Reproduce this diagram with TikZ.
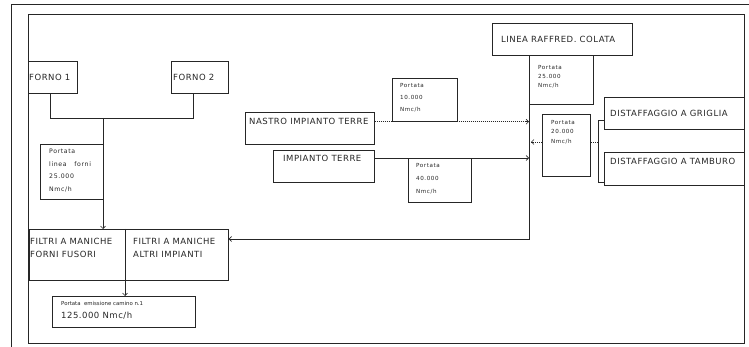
\documentclass[tikz,border=0pt]{standalone}
\usepackage{fontspec}
\newfontfamily\lab[LetterSpace=6]{DejaVu Sans}
\newfontfamily\labs[LetterSpace=10]{DejaVu Sans}
\newfontfamily\labt{DejaVu Sans}
\usetikzlibrary{arrows.meta,backgrounds,calc}
\definecolor{ink}{gray}{0.15}
\begin{document}
\begin{tikzpicture}[x=1pt,y=-1pt,
  box/.style={draw=ink, line width=0.7pt, fill=white, anchor=north west, inner sep=0pt},
  lbl/.style={text=ink, inner sep=0pt, anchor=west, font=\fontsize{8.5}{10}\selectfont\lab},
  lbltwo/.style={text=ink, inner sep=0pt, anchor=north west, align=left, font=\fontsize{8.5}{13}\selectfont\lab},
  smsix/.style={text=ink, inner sep=0pt, anchor=north west, align=left, font=\fontsize{6.2}{12.5}\selectfont\labs},
  smfive/.style={text=ink, inner sep=0pt, anchor=north west, align=left, font=\fontsize{5.6}{#1}\selectfont\labs},
  tiny/.style={text=ink, inner sep=0pt, anchor=west, font=\fontsize{5.4}{6}\selectfont\labt},
  conn/.style={draw=ink, line width=0.7pt},
  arr/.style={conn, -{Straight Barb[length=2.5pt,width=5pt]}},
  dotline/.style={draw=ink, line width=0.6pt, dash pattern=on 1pt off 1pt}
]
\useasboundingbox (0,0) rectangle (749,347);
% frames
\coordinate (o1) at (11,347);
\coordinate (o2) at (11,5);
\coordinate (o3) at (749,5);
\draw[ink, line width=1pt] (o1) -- (o2) -- (o3);
\node[draw=ink, line width=1pt, anchor=north west, inner sep=0pt, minimum width=716pt, minimum height=329pt] (frame) at (28,14) {};

% boxes
\node[box, minimum width=49pt, minimum height=32pt] (forno1) at (28,61) {};
\node[box, minimum width=57pt, minimum height=32pt] (forno2) at (171,61) {};
\node[box, minimum width=63pt, minimum height=55pt] (plf) at (40,144) {};
\node[box, minimum width=199pt, minimum height=51pt] (filt) at (29,229) {};
\node[box, minimum width=143pt, minimum height=31pt] (emis) at (52,296) {};
\node[box, minimum width=140pt, minimum height=32pt] (linea) at (492,23) {};
\node[box, minimum width=64pt, minimum height=49pt] (p25) at (529,55) {};
\node[box, minimum width=140pt, minimum height=32pt] (distA) at (604,97) {};
\node[box, minimum width=140pt, minimum height=33pt] (distB) at (604,152) {};
\node[box, minimum width=129pt, minimum height=32pt] (nastro) at (245,112) {};
\node[box, minimum width=65pt, minimum height=43pt] (p10) at (392,78) {};
\node[box, minimum width=101pt, minimum height=32pt] (imp) at (273,150) {};
\node[box, minimum width=63pt, minimum height=44pt] (p40) at (408,158) {};
\node[box, minimum width=48pt, minimum height=62pt] (p20) at (542,114) {};

% connectors
\coordinate (j1) at (50,118);
\coordinate (j2) at (193,118);
\coordinate (j3) at (103,118);
\coordinate (dv) at (125,229);
\coordinate (bv) at (529,239);
\coordinate (br1) at (598,120);
\coordinate (br2) at (598,182);
\coordinate (br3) at (598,142);
\coordinate (br4) at (531,142);
\draw[conn] (dv) -- (dv |- filt.south);
\begin{scope}[on background layer]
\draw[conn] (forno1.south -| j1) -- (j1) -- (j2) -- (forno2.south -| j2);
\draw[arr] (j3) -- (filt.north -| j3);
\draw[arr] (dv |- filt.south) -- (emis.north -| dv);
\draw[arr] (p25.south west) -- (bv) -- (bv -| filt.east);
\draw[dotline] (nastro.east |- p10.south) -- (p10.south -| p25.west);
\draw[ink, line width=0.6pt, -{Straight Barb[length=2.5pt,width=5pt]}] ($(p10.south -| p25.west)+(-3,0)$) -- (p10.south -| p25.west);
\draw[arr] (imp.east |- p40.north) -- (p40.north -| p25.west);
\draw[conn] (distA.west |- br1) -- (br1) -- (br2) -- (distB.west |- br2);
\draw[dotline] (br3) -- (br4);
\draw[ink, line width=0.6pt, -{Straight Barb[length=2.5pt,width=5pt]}] ($(br4)+(3,0)$) -- (br4);
\end{scope}

% texts
\node[lbl] (tf1) at (29,77) {FORNO 1};
\node[lbl] (tf2) at (173,77) {FORNO 2};
\node[smsix] (tplf) at (49,149) {Portata\\linea\ \ \ forni\\25.000\\Nmc/h};
\node[lbltwo] (tfa) at (30,238) {FILTRI A MANICHE\\FORNI FUSORI};
\node[lbltwo] (tfb) at (133,238) {FILTRI A MANICHE\\ALTRI IMPIANTI};
\node[tiny] (te1) at (61,303) {Portata\ \ emissione camino n.1};
\node[lbl] (te2) at (61,316) {125.000 Nmc/h};
\node[lbl] (tlin) at (501,39) {LINEA RAFFRED. COLATA};
\node[smfive=9] (tp25) at (538,65) {Portata\\25.000\\Nmc/h};
\node[smfive=9.5] (tp20) at (551,120) {Portata\\20.000\\Nmc/h};
\node[lbl] (tda) at (610,113) {DISTAFFAGGIO A GRIGLIA};
\node[lbl] (tdb) at (610,161) {DISTAFFAGGIO A TAMBURO};
\node[lbl] (tna) at (249,121) {NASTRO IMPIANTO TERRE};
\node[smfive=12] (tp10) at (400,83) {Portata\\10.000\\Nmc/h};
\node[lbl] (tim) at (283,158) {IMPIANTO TERRE};
\node[smfive=13] (tp40) at (416,163) {Portata\\40.000\\Nmc/h};
\end{tikzpicture}
\end{document}
